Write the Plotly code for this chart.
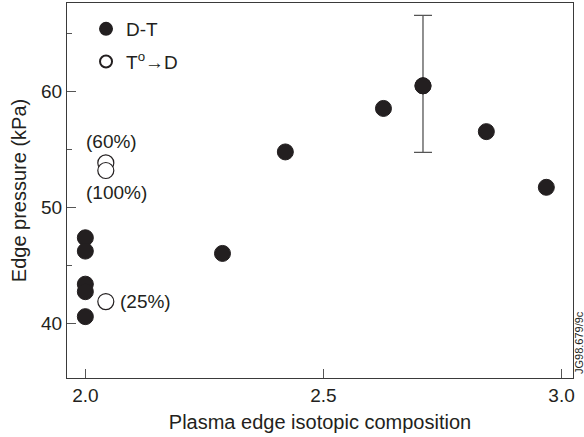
import plotly.graph_objects as go

# D-T data (filled circles)
dt_x = [2.0, 2.0, 2.0, 2.0, 2.0, 2.288, 2.42, 2.626, 2.709, 2.842, 2.968]
dt_y = [47.35, 46.2, 43.35, 42.7, 40.55, 46.0, 54.75, 58.5, 60.45, 56.5, 51.7]
# error bar on one D-T point
err_x = [2.709]
err_y = [60.45]
err_plus = [6.07]
err_minus = [5.74]

# T0 -> D data (open circles)
td_x = [2.043, 2.043, 2.043]
td_y = [53.8, 53.15, 41.85]
td_labels = ["(60%)", "(100%)", "(25%)"]

FONT = "Liberation Sans, Arial, Helvetica, sans-serif"
INK = "#231f20"
AX = "#3a3a3a"

fig = go.Figure()

fig.add_trace(go.Scatter(
    x=err_x, y=err_y, mode="markers", showlegend=False,
    marker=dict(size=16, color=INK, line=dict(width=1, color=INK)),
    error_y=dict(type="data", symmetric=False, array=err_plus, arrayminus=err_minus,
                 color="#555555", thickness=1.3, width=9),
))

fig.add_trace(go.Scatter(
    x=dt_x, y=dt_y, mode="markers", name="D-T", legendgroup="a",
    marker=dict(size=16, color=INK, line=dict(width=1, color=INK)),
))

fig.add_trace(go.Scatter(
    x=td_x, y=td_y, mode="markers", name="T<sup>o</sup>→D", legendgroup="b",
    marker=dict(size=16, color="white", line=dict(width=1.2, color=INK)),
))

# labels for open circles
shifts = [dict(xshift=6, yshift=21, xanchor="center"),
          dict(xshift=11, yshift=-22, xanchor="center"),
          dict(xshift=12, yshift=0, xanchor="left")]
for xv, yv, lab, s in zip(td_x, td_y, td_labels, shifts):
    fig.add_annotation(x=xv, y=yv, xref="x", yref="y", text=lab, showarrow=False,
                       font=dict(family=FONT, size=19, color=INK),
                       yanchor="middle", **s)

# figure id label at the right edge
fig.add_annotation(x=(579 - 67) / 506, y=1 - (343 - 3) / 375,
                   xref="paper", yref="paper", text="JG98.679/9c",
                   showarrow=False, textangle=-90, xanchor="center", yanchor="middle",
                   font=dict(family=FONT, size=11, color=INK))

fig.update_layout(
    width=584, height=437,
    margin=dict(l=67, r=11, t=3, b=59),
    paper_bgcolor="white", plot_bgcolor="white",
    font=dict(family=FONT, size=19, color=INK),
    showlegend=True,
    legend=dict(x=0.0376, y=0.9814, xanchor="left", yanchor="top",
                itemsizing="constant", tracegroupgap=5,
                bgcolor="rgba(0,0,0,0)", borderwidth=0,
                font=dict(family=FONT, size=19, color=INK)),
    xaxis=dict(range=[1.9615, 3.024], tickvals=[2.0, 2.5, 3.0],
               ticktext=["2.0", "2.5", "3.0"],
               ticks="inside", ticklen=9, tickwidth=1, tickcolor="#555555",
               showline=True, linecolor=AX, linewidth=1.3, mirror=True,
               showgrid=False, zeroline=False,
               tickfont=dict(family=FONT, size=19, color=INK),
               title=dict(text="Plasma edge isotopic composition", standoff=10,
                          font=dict(family=FONT, size=20, color=INK))),
    yaxis=dict(range=[35.26, 67.59], tickvals=[40, 50, 60],
               ticks="inside", ticklen=9, tickwidth=1, tickcolor="#555555",
               minor=dict(tickvals=[45, 55, 65], ticks="inside", ticklen=5,
                          tickwidth=1, tickcolor="#555555"),
               showline=True, linecolor=AX, linewidth=1.3, mirror=True,
               showgrid=False, zeroline=False,
               tickfont=dict(family=FONT, size=19, color=INK),
               title=dict(text="Edge pressure (kPa)", standoff=8,
                          font=dict(family=FONT, size=20, color=INK))),
)

fig.write_html("out.html")
